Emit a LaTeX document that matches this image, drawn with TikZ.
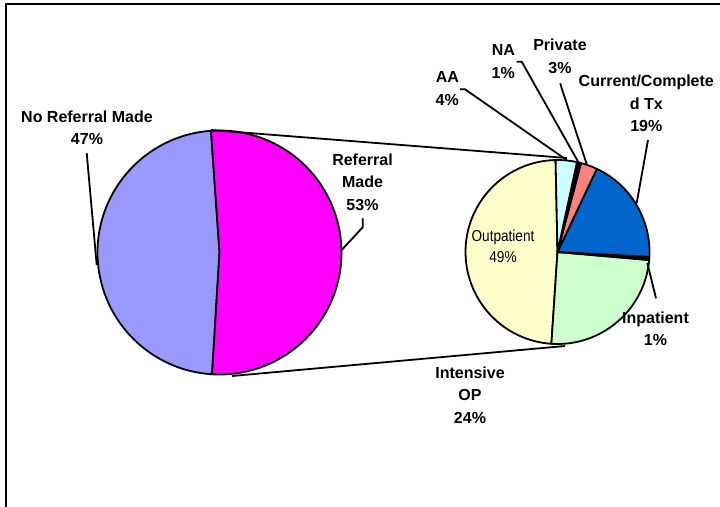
\documentclass[tikz,border=0pt]{standalone}
\usepackage{fontspec}
\setmainfont{Liberation Sans}
\newfontfamily\narrowfont[FakeStretch=0.86]{Liberation Sans}
\definecolor{pieviolet}{HTML}{9999FF}
\definecolor{piemagenta}{HTML}{FF00FF}
\definecolor{pieyellow}{HTML}{FFFFCC}
\definecolor{piegreen}{HTML}{CCFFCC}
\definecolor{pieblue}{HTML}{0066CC}
\definecolor{piepink}{HTML}{FF8080}
\definecolor{piecyan}{HTML}{CCFFFF}
\tikzset{
  lbl/.style={align=center, inner sep=0pt, font=\fontsize{16}{22.5}\selectfont\bfseries},
  inlbl/.style={align=center, inner sep=0pt, font=\fontsize{15.8}{21}\selectfont\narrowfont},
  wedge/.style={draw=black, line width=1.8pt, line join=round},
  leader/.style={draw=black, line width=1.8pt, line join=round},
}
\begin{document}
\begin{tikzpicture}[x=1pt, y=1pt]
\useasboundingbox (0,0) rectangle (720,-506);
% frame
\draw[line width=2.2pt] (6,-507) -- (6,-4.2) -- (721,-4.2);
% centres
\coordinate (L) at (219.5,-252.5);
\coordinate (R) at (557.5,-252);
% left pie
\filldraw[wedge, fill=pieviolet] (L) -- +(94:122) arc[start angle=94, end angle=266.5, radius=122] -- cycle;
\filldraw[wedge, fill=piemagenta] (L) -- +(-93.5:122) arc[start angle=-93.5, end angle=94, radius=122] -- cycle;
% right pie
\filldraw[wedge, fill=pieyellow] (R) -- +(91.2:92) arc[start angle=91.2, end angle=266.2, radius=92] -- cycle;
\filldraw[wedge, fill=piegreen] (R) -- +(266.2:92) arc[start angle=266.2, end angle=355, radius=92] -- cycle;
\filldraw[wedge, fill=black] (R) -- +(355:92) arc[start angle=355, end angle=357, radius=92] -- cycle;
\filldraw[wedge, fill=pieblue] (R) -- +(357:92) arc[start angle=357, end angle=424.7, radius=92] -- cycle;
\filldraw[wedge, fill=piepink] (R) -- +(64.7:92) arc[start angle=64.7, end angle=75.2, radius=92] -- cycle;
\filldraw[wedge, fill=black] (R) -- +(75.2:92) arc[start angle=75.2, end angle=77.8, radius=92] -- cycle;
\filldraw[wedge, fill=piecyan] (R) -- +(77.8:92) arc[start angle=77.8, end angle=91.2, radius=92] -- cycle;
% connectors between pies
\coordinate (Ltop) at (211,-130);
\coordinate (Rtop) at (567,-158);
\coordinate (Lbot) at (232,-376);
\coordinate (Rbot) at (565,-346);
\draw[leader] (Ltop) -- (Rtop);
\draw[leader] (Lbot) -- (Rbot);
% labels
\node[lbl] (noref) at (87,-128) {No Referral Made\\47\%};
\node[lbl] (ref) at (362.5,-182.2) {Referral\\Made\\53\%};
\node[lbl] (aa) at (447.3,-88.5) {AA\\4\%};
\node[lbl] (na) at (503.3,-61.8) {NA\\1\%};
\node[lbl] (priv) at (560,-56.4) {Private\\3\%};
\node[lbl] (cur) at (646.3,-103.3) {Current/Complete\\d Tx\\19\%};
\node[lbl] (int) at (470,-395) {Intensive\\OP\\24\%};
\node[lbl] (inp) at (655.5,-328.7) {Inpatient\\1\%};
\node[inlbl] (outp) at (503,-246.7) {Outpatient\\49\%};
% leader lines
\coordinate (norefA) at (86.7,-153);
\coordinate (norefB) at (96.7,-265);
\draw[leader] (norefA) -- (norefB);
\coordinate (refA) at (362.7,-218.3);
\coordinate (refB) at (362.7,-227.3);
\coordinate (refC) at (341.7,-250);
\draw[leader] (refA) -- (refB) -- (refC);
\coordinate (aaA) at (460,-89.3);
\coordinate (aaB) at (465,-89.3);
\coordinate (aaC) at (566.7,-160);
\draw[leader] (aaA) -- (aaB) -- (aaC);
\coordinate (naA) at (516.7,-61.7);
\coordinate (naB) at (521.7,-61.7);
\coordinate (naC) at (579,-163.3);
\draw[leader] (naA) -- (naB) -- (naC);
\coordinate (privA) at (560.3,-83.3);
\coordinate (privB) at (561.7,-88.3);
\coordinate (privC) at (587,-165);
\draw[leader] (privA) -- (privB) -- (privC);
\coordinate (curA) at (648,-140);
\coordinate (curB) at (636.7,-203);
\draw[leader] (curA) -- (curB);
\coordinate (inpA) at (656,-298.3);
\coordinate (inpB) at (647.3,-263);
\draw[leader] (inpA) -- (inpB);
\end{tikzpicture}
\end{document}
